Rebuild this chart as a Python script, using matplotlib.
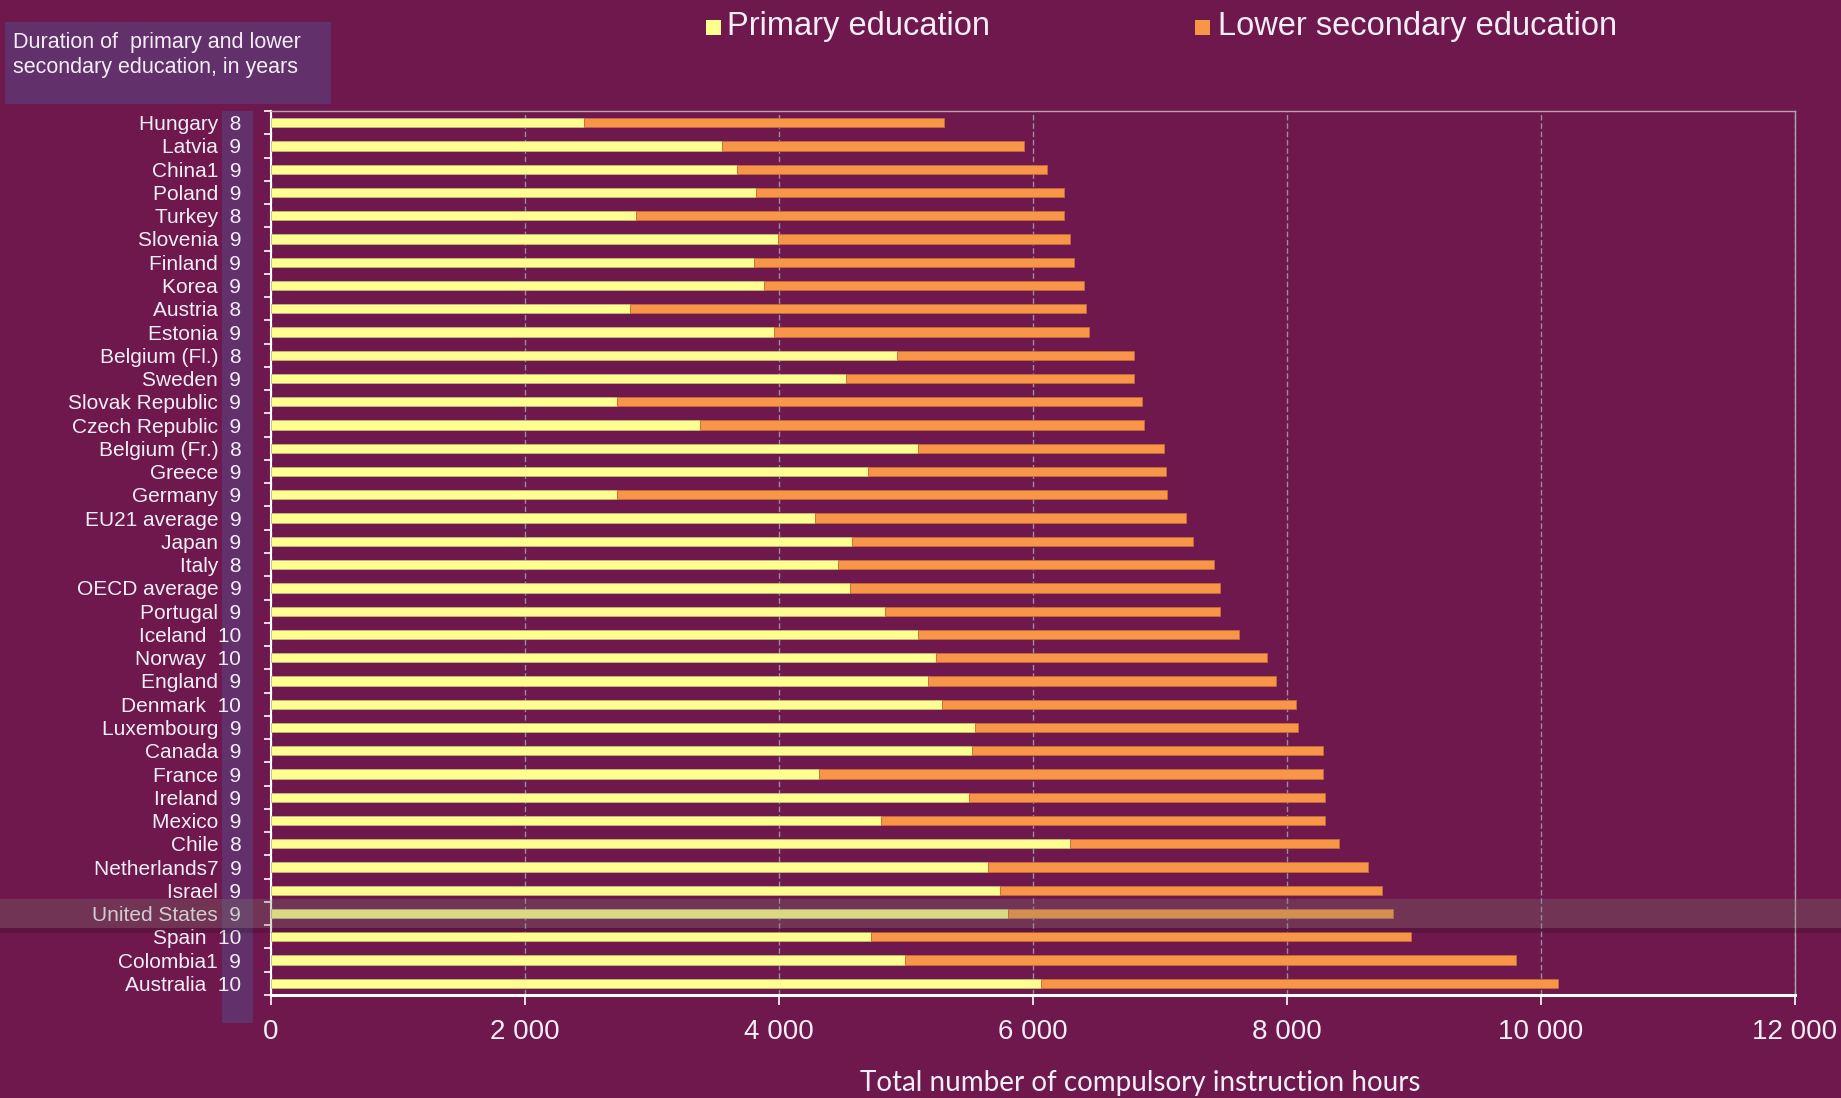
import matplotlib
matplotlib.use("Agg")
import matplotlib.pyplot as plt
from matplotlib.patches import Rectangle
import numpy as np

# ---- data -------------------------------------------------------------
countries = [
    "Hungary", "Latvia", "China1", "Poland", "Turkey", "Slovenia", "Finland",
    "Korea", "Austria", "Estonia", "Belgium (Fl.)", "Sweden", "Slovak Republic",
    "Czech Republic", "Belgium (Fr.)", "Greece", "Germany", "EU21 average",
    "Japan", "Italy", "OECD average", "Portugal", "Iceland", "Norway",
    "England", "Denmark", "Luxembourg", "Canada", "France", "Ireland",
    "Mexico", "Chile", "Netherlands7", "Israel", "United States", "Spain",
    "Colombia1", "Australia",
]
duration_years = [
    8, 9, 9, 9, 8, 9, 9, 9, 8, 9, 8, 9, 9, 9, 8, 9, 9, 9, 9, 8, 9, 9, 10, 10,
    9, 10, 9, 9, 9, 9, 9, 8, 9, 9, 9, 10, 9, 10,
]
primary_hours = [
    2471, 3556, 3670, 3818, 2878, 3996, 3803, 3881, 2827, 3962, 4932, 4529,
    2731, 3378, 5095, 4706, 2731, 4288, 4577, 4466, 4560, 4835, 5098, 5238,
    5175, 5288, 5549, 5518, 4316, 5500, 4804, 6296, 5649, 5744, 5808, 4723,
    4998, 6065,
]
lower_secondary_hours = [
    2832, 2379, 2443, 2428, 3368, 2298, 2521, 2524, 3594, 2477, 1865, 2268,
    4129, 3498, 1937, 2344, 4329, 2920, 2685, 2959, 2915, 2640, 2522, 2608,
    2738, 2783, 2541, 2765, 3967, 2801, 3497, 2114, 2992, 3009, 3027, 4257,
    4808, 4066,
]
series_labels = ["Primary education", "Lower secondary education"]
xticks = [0, 2000, 4000, 6000, 8000, 10000, 12000]
xtick_labels = ["0", "2 000", "4 000", "6 000", "8 000", "10 000", "12 000"]
highlighted = "United States"

# ---- style ------------------------------------------------------------
BG = "#6e184d"
PANEL = "#62306a"
TXT = "#f3eef6"
YELLOW = "#ffff8f"
ORANGE = "#f79646"
W, H = 1841, 1098

plt.rcParams["font.family"] = ["Liberation Sans", "DejaVu Sans"]

fig = plt.figure(figsize=(W / 100, H / 100), dpi=100, facecolor=BG)


def frac_box(x0, y0, x1, y1):
    """Convert pixel box (top-left origin) to figure-fraction rectangle args."""
    return (x0 / W, 1 - y1 / H), (x1 - x0) / W, (y1 - y0) / H


# column behind the duration figures
xy, w, h = frac_box(222, 111, 253, 1023)
fig.add_artist(Rectangle(xy, w, h, transform=fig.transFigure,
                         facecolor=PANEL, edgecolor="none", zorder=-1))

# caption box at top-left
xy, w, h = frac_box(4.5, 22, 331, 104)
fig.add_artist(Rectangle(xy, w, h, transform=fig.transFigure,
                         facecolor=PANEL, edgecolor="none", zorder=-1))
fig.text(13 / W, 1 - 48 / H, "Duration of  primary and lower",
         color=TXT, fontsize=15.5, va="baseline", ha="left")
fig.text(13 / W, 1 - 73 / H, "secondary education, in years",
         color=TXT, fontsize=15.5, va="baseline", ha="left")

ax = fig.add_axes([270.5 / W, 1 - 995 / H, (1795 - 270.5) / W, (995 - 111) / H])
ax.set_facecolor(BG)

n = len(countries)
y = np.arange(n)
ax.barh(y, primary_hours, height=0.4, color=YELLOW, edgecolor="#c8b77c",
        linewidth=0.6, zorder=3)
ax.barh(y, lower_secondary_hours, left=primary_hours, height=0.4,
        color=ORANGE, edgecolor="#c8693a", linewidth=0.6, zorder=3)

ax.set_xlim(0, 12000)
ax.set_ylim(n - 0.5, -0.5)

ax.set_xticks(xticks)
ax.set_xticklabels(xtick_labels)
ax.set_yticks(y)
ax.set_yticklabels([f"{c}  {d}" for c, d in zip(countries, duration_years)])
ax.set_yticks(np.arange(n + 1) - 0.5, minor=True)

ax.tick_params(axis="y", which="major", length=0, pad=21,
               labelsize=15, labelcolor=TXT)
ax.tick_params(axis="y", which="minor", length=5, width=1.2,
               color="white", direction="out")
ax.tick_params(axis="x", which="major", length=7, width=1.2, color="white",
               pad=10, labelsize=20, labelcolor=TXT)

ax.set_axisbelow(True)
ax.xaxis.grid(True, color="#9d8a9d", linestyle=(0, (4, 2)), linewidth=1.0)

for side in ("top", "right"):
    ax.spines[side].set_color("#b3a3b3")
    ax.spines[side].set_linewidth(1.0)
ax.spines["left"].set_color("white")
ax.spines["left"].set_linewidth(1.5)
ax.spines["bottom"].set_color("white")
ax.spines["bottom"].set_linewidth(2.2)

# axis title along the lower edge of the canvas
fig.text(1140 / W, 7.0 / H, "Total number of compulsory instruction hours",
         color=TXT, fontsize=20, family=["Lato", "DejaVu Sans"],
         ha="center", va="baseline")

# legend along the top
legend_items = [(706, 727, YELLOW), (1195, 1218, ORANGE)]
for (sq_x, tx_x, col), lab in zip(legend_items, series_labels):
    xy, w, h = frac_box(sq_x, 20, sq_x + 15, 35)
    fig.add_artist(Rectangle(xy, w, h, transform=fig.transFigure,
                             facecolor=col, edgecolor="none"))
    fig.text(tx_x / W, 1 - 35 / H, lab, color=TXT, fontsize=23.5,
             ha="left", va="baseline")

# highlight strip across the whole row of the selected country
row = countries.index(highlighted)
row_px = ax.transData.transform((0, row))[1]
row_top = H - row_px - 15
xy, w, h = frac_box(0, row_top, W, row_top + 29)
fig.add_artist(Rectangle(xy, w, h, transform=fig.transFigure,
                         facecolor="#7c7c6c", alpha=0.29, edgecolor="none",
                         zorder=5))
xy, w, h = frac_box(0, row_top + 29, W, row_top + 34)
fig.add_artist(Rectangle(xy, w, h, transform=fig.transFigure,
                         facecolor="black", alpha=0.15, edgecolor="none",
                         zorder=5))

fig.savefig("out.png", dpi=100, facecolor=BG)
